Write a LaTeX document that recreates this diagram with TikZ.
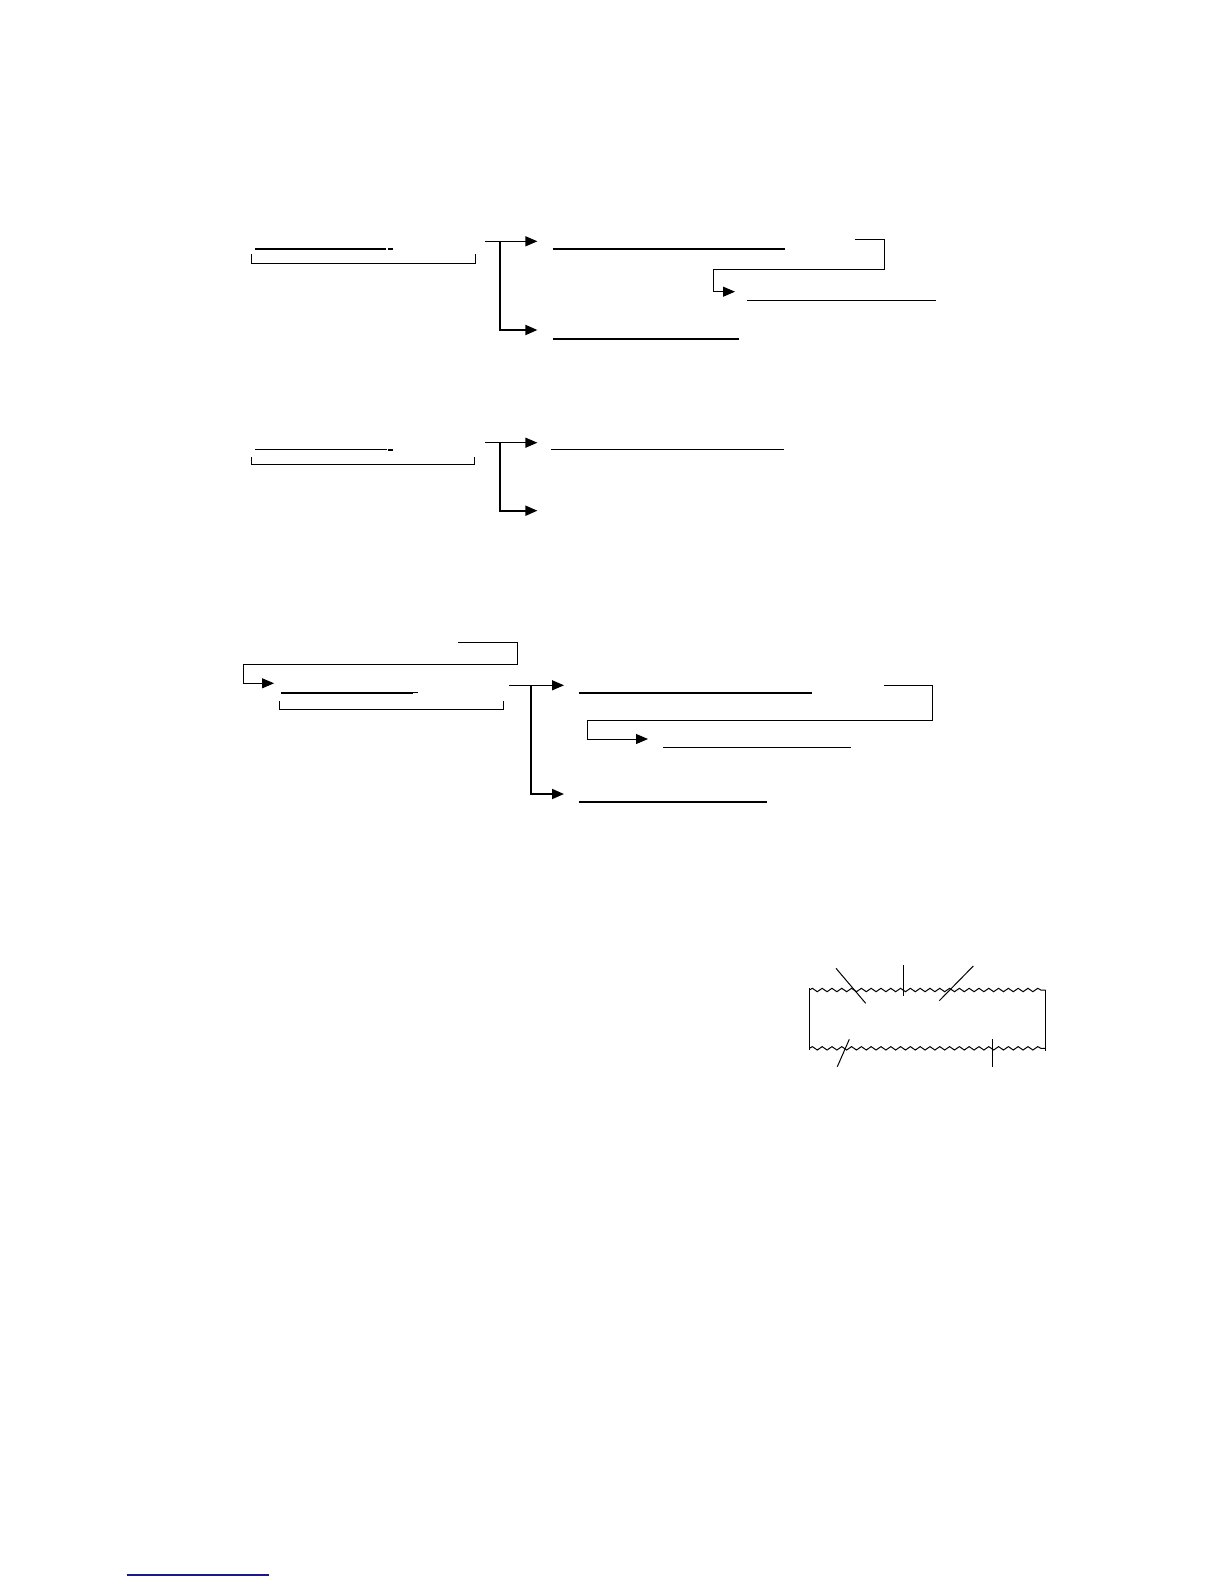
\documentclass[tikz,border=0pt]{standalone}
\usepackage{tikz}
\usetikzlibrary{arrows.meta}
\usetikzlibrary{decorations.pathmorphing}
\definecolor{linkblue}{RGB}{25,25,140}
\tikzset{%
    rule/.style={line width=1.1pt},
    hair/.style={line width=0.5pt},
    fork/.style={line width=0.6pt,-{Triangle[length=6pt,width=5pt]}},
    wavy/.style={line width=0.5pt,decorate,decoration={snake,segment length=4.9pt,amplitude=0.85pt}}
}
\begin{document}
\begin{tikzpicture}[x=0.5pt,y=-0.5pt]
            \useasboundingbox (0,0) rectangle (1224,1584);

            % first scheme
            \coordinate (a1) at (255,249);
            \coordinate (a1e) at (386,249);
            \coordinate (a1d) at (387.5,249);
            \coordinate (a1f) at (392.5,249);
            \coordinate (b1l) at (251.5,254.3);
            \coordinate (b1r) at (475,254.3);
            \coordinate (f1) at (485.4,241.3);
            \coordinate (f1v) at (500,241.3);
            \coordinate (t1a) at (537.4,241.3);
            \coordinate (t1b) at (537.4,330);
            \coordinate (u1) at (552.5,249);
            \coordinate (u1e) at (785,249);
            \coordinate (r1) at (854.8,239.3);
            \coordinate (r1c) at (884,269.3);
            \coordinate (r1d) at (713,291.7);
            \coordinate (t1c) at (735,291.7);
            \coordinate (v1) at (747,300);
            \coordinate (v1e) at (935.5,300);
            \coordinate (w1) at (552.5,338.7);
            \coordinate (w1e) at (739.4,338.7);

            \draw[rule] (a1) -- (a1e);
            \draw[rule] (a1d) -- (a1f);
            \draw[hair] (b1l) -- ++(0,9) -| (b1r);
            \draw[fork] (f1) -- (t1a);
            \draw[fork,line width=0.9pt] (f1v) |- (t1b);
            \draw[rule] (u1) -- (u1e);
            \draw[hair,-{Triangle[length=6pt,width=5pt]}] (r1) -| (r1c) -| (r1d) -- (t1c);
            \draw[hair] (v1) -- (v1e);
            \draw[rule] (w1) -- (w1e);

            % second scheme
            \coordinate (a2) at (255,449.3);
            \coordinate (a2e) at (387,449.3);
            \coordinate (a2d) at (388,450);
            \coordinate (a2f) at (392.5,450);
            \coordinate (b2l) at (251,457.3);
            \coordinate (b2r) at (474.3,457.3);
            \coordinate (f2) at (485,442.7);
            \coordinate (f2v) at (500,442.7);
            \coordinate (t2a) at (537.4,442.7);
            \coordinate (t2b) at (537.4,510.7);
            \coordinate (u2) at (551.4,449.3);
            \coordinate (u2e) at (784.4,449.3);

            \draw[hair] (a2) -- (a2e);
            \draw[rule] (a2d) -- (a2f);
            \draw[hair] (b2l) -- ++(0,7) -| (b2r);
            \draw[fork] (f2) -- (t2a);
            \draw[fork,line width=0.9pt] (f2v) |- (t2b);
            \draw[hair] (u2) -- (u2e);

            % third scheme
            \coordinate (r3) at (458,642.3);
            \coordinate (r3c) at (517.4,664);
            \coordinate (r3d) at (243.8,683.3);
            \coordinate (t3) at (274,683.3);
            \coordinate (a3) at (281,692.7);
            \coordinate (a3e) at (413.4,692.7);
            \coordinate (a3f) at (418,692.7);
            \coordinate (b3l) at (279.8,701);
            \coordinate (b3r) at (503.7,701);
            \coordinate (f3) at (509,685.3);
            \coordinate (f3v) at (530.6,685.3);
            \coordinate (t3a) at (564,685.3);
            \coordinate (t3b) at (564,794);
            \coordinate (u3) at (578.5,692.7);
            \coordinate (u3e) at (811.5,692.7);
            \coordinate (s3) at (884,685.3);
            \coordinate (s3c) at (932,720);
            \coordinate (s3d) at (587.6,739);
            \coordinate (t3c) at (648,739);
            \coordinate (v3) at (662.8,747.3);
            \coordinate (v3e) at (851,747.3);
            \coordinate (w3) at (578.5,801.7);
            \coordinate (w3e) at (766.8,801.7);

            \draw[hair,-{Triangle[length=6pt,width=5pt]}] (r3) -| (r3c) -| (r3d) -- (t3);
            \draw[rule] (a3) -- (a3e);
            \draw[hair] (a3e) -- (a3f);
            \draw[hair] (b3l) -- ++(0,8.3) -| (b3r);
            \draw[fork] (f3) -- (t3a);
            \draw[fork,line width=0.9pt] (f3v) |- (t3b);
            \draw[rule] (u3) -- (u3e);
            \draw[hair,-{Triangle[length=6pt,width=5pt]}] (s3) -| (s3c) -| (s3d) -- (t3c);
            \draw[hair] (v3) -- (v3e);
            \draw[rule] (w3) -- (w3e);

            % wavy strip
            \coordinate (p1) at (809.3,990);
            \coordinate (p2) at (1045.7,990);
            \coordinate (p3) at (809.3,1048.3);
            \coordinate (p4) at (1045.7,1048.3);
            \draw[wavy] (p1) -- (p2);
            \draw[wavy] (p3) -- (p4);
            \draw[hair] (809.3,988.3) -- (809.3,1050);
            \draw[hair] (1045.7,990) -- (1045.7,1050.7);
            \coordinate (k1) at (836,968.3);
            \coordinate (k1e) at (865.7,1003.3);
            \coordinate (k2) at (903.3,965);
            \coordinate (k2e) at (903.3,995.7);
            \coordinate (k3) at (973.3,966);
            \coordinate (k3e) at (939.3,1000.7);
            \coordinate (k4) at (849.3,1039.3);
            \coordinate (k4e) at (837.3,1066.7);
            \coordinate (k5) at (992.3,1039.3);
            \coordinate (k5e) at (992.3,1067.3);
            \draw[hair] (k1) -- (k1e);
            \draw[hair] (k2) -- (k2e);
            \draw[hair] (k3) -- (k3e);
            \draw[hair] (k4) -- (k4e);
            \draw[hair] (k5) -- (k5e);

            % footnote rule
            \coordinate (n1) at (126.7,1575);
            \coordinate (n1e) at (269,1575);
            \draw[linkblue,line width=0.7pt] (n1) -- (n1e);
        \end{tikzpicture}
\end{document}
